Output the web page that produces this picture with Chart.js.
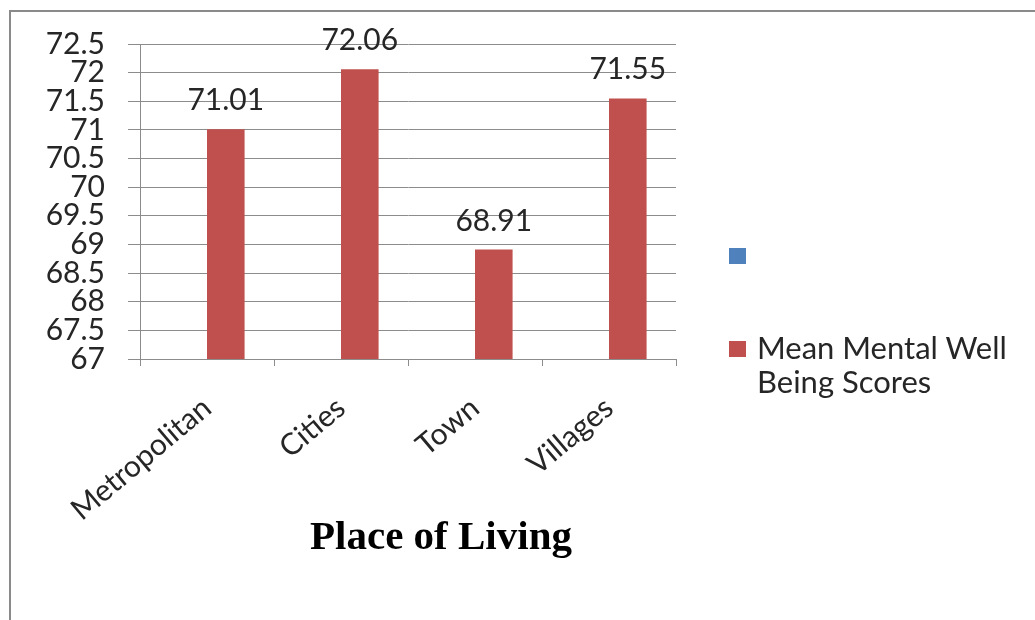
<!DOCTYPE html>
<html>
<head>
<meta charset="utf-8">
<script src="https://cdn.jsdelivr.net/npm/chart.js@4/dist/chart.umd.min.js"></script>
<style>
  body { margin: 0; background: #fff; }
  #wrap { position: relative; width: 1035px; height: 620px; overflow: hidden; }
  #frame { position: absolute; left: 9px; top: 10px; right: -5px; bottom: -5px;
           border-top: 2px solid #8a8a8a; border-left: 2px solid #8a8a8a; }
  canvas { position: absolute; left: 0; top: 0; }
  .key { position: absolute; left: 729px; width: 17px; height: 16px; }
  #legendText { position: absolute; left: 757px; top: 330px; font: 31px Lato, sans-serif;
                line-height: 34px; color: #262626; }
  #axisTitle { position: absolute; left: 0; width: 882px; top: 515px; text-align: center;
               font: bold 41px "Liberation Serif", "Times New Roman", serif; line-height: 40px; color: #000; }
</style>
</head>
<body>
<div id="wrap">
  <div id="frame"></div>
  <canvas id="myChart" width="1035" height="620"></canvas>
  <div class="key" style="top:248px;background:#4F81BD"></div>
  <div class="key" style="top:341px;background:#C0504D"></div>
  <div id="legendText">Mean Mental Well<br>Being Scores</div>
  <div id="axisTitle">Place of Living</div>
</div>
<script>
const places = ['Metropolitan', 'Cities', 'Town', 'Villages'];
const emptySeries = [null, null, null, null];
const wellBeingScores = [71.01, 72.06, 68.91, 71.55];
const yMin = 67;
const yMax = 72.5;
const yStep = 0.5;

const gridColor = '#8c8c8c';
const textColor = '#262626';

// value labels above the red bars
const valueLabels = {
    id: 'valueLabels',
    afterDatasetsDraw(chart) {
        const ctx = chart.ctx;
        const meta = chart.getDatasetMeta(1);
        ctx.save();
        ctx.font = '30px Lato, sans-serif';
        ctx.fillStyle = textColor;
        ctx.textAlign = 'center';
        ctx.textBaseline = 'alphabetic';
        meta.data.forEach((bar, i) => {
            ctx.fillText(wellBeingScores[i].toFixed(2), bar.x, bar.y - 19);
        });
        ctx.restore();
    }
};

const ctx = document.getElementById('myChart').getContext('2d');

new Chart(ctx, {
    type: 'bar',
    data: {
        labels: places,
        datasets: [
            { label: '', data: emptySeries, backgroundColor: '#4F81BD' },
            { label: 'Mean Mental Well Being Scores', data: wellBeingScores, backgroundColor: '#C0504D' }
        ]
    },
    options: {
        responsive: false,
        animation: false,
        layout: { padding: { left: 0, right: 359, top: 44, bottom: 0 } },
        datasets: { bar: { categoryPercentage: 0.561, barPercentage: 1.0 } },
        plugins: {
            legend: { display: false },
            tooltip: { enabled: false }
        },
        scales: {
            x: {
                grid: { display: true, drawOnChartArea: false, offset: true, tickLength: 7, color: gridColor },
                border: { color: gridColor },
                ticks: {
                    color: textColor,
                    font: { family: 'Lato', size: 30 },
                    minRotation: 40,
                    maxRotation: 40,
                    padding: 24,
                    autoSkip: false
                },
                afterFit: (scale) => { scale.height = 261; }
            },
            y: {
                min: yMin,
                max: yMax,
                grid: { color: gridColor, tickLength: 12 },
                border: { color: gridColor },
                ticks: {
                    stepSize: yStep,
                    autoSkip: false,
                    color: textColor,
                    font: { family: 'Lato', size: 30, lineHeight: 1 },
                    padding: 23,
                    callback: (value) => String(Number(value.toFixed(1)))
                },
                afterFit: (scale) => { scale.width = 140; }
            }
        }
    },
    plugins: [valueLabels]
});
</script>
</body>
</html>
